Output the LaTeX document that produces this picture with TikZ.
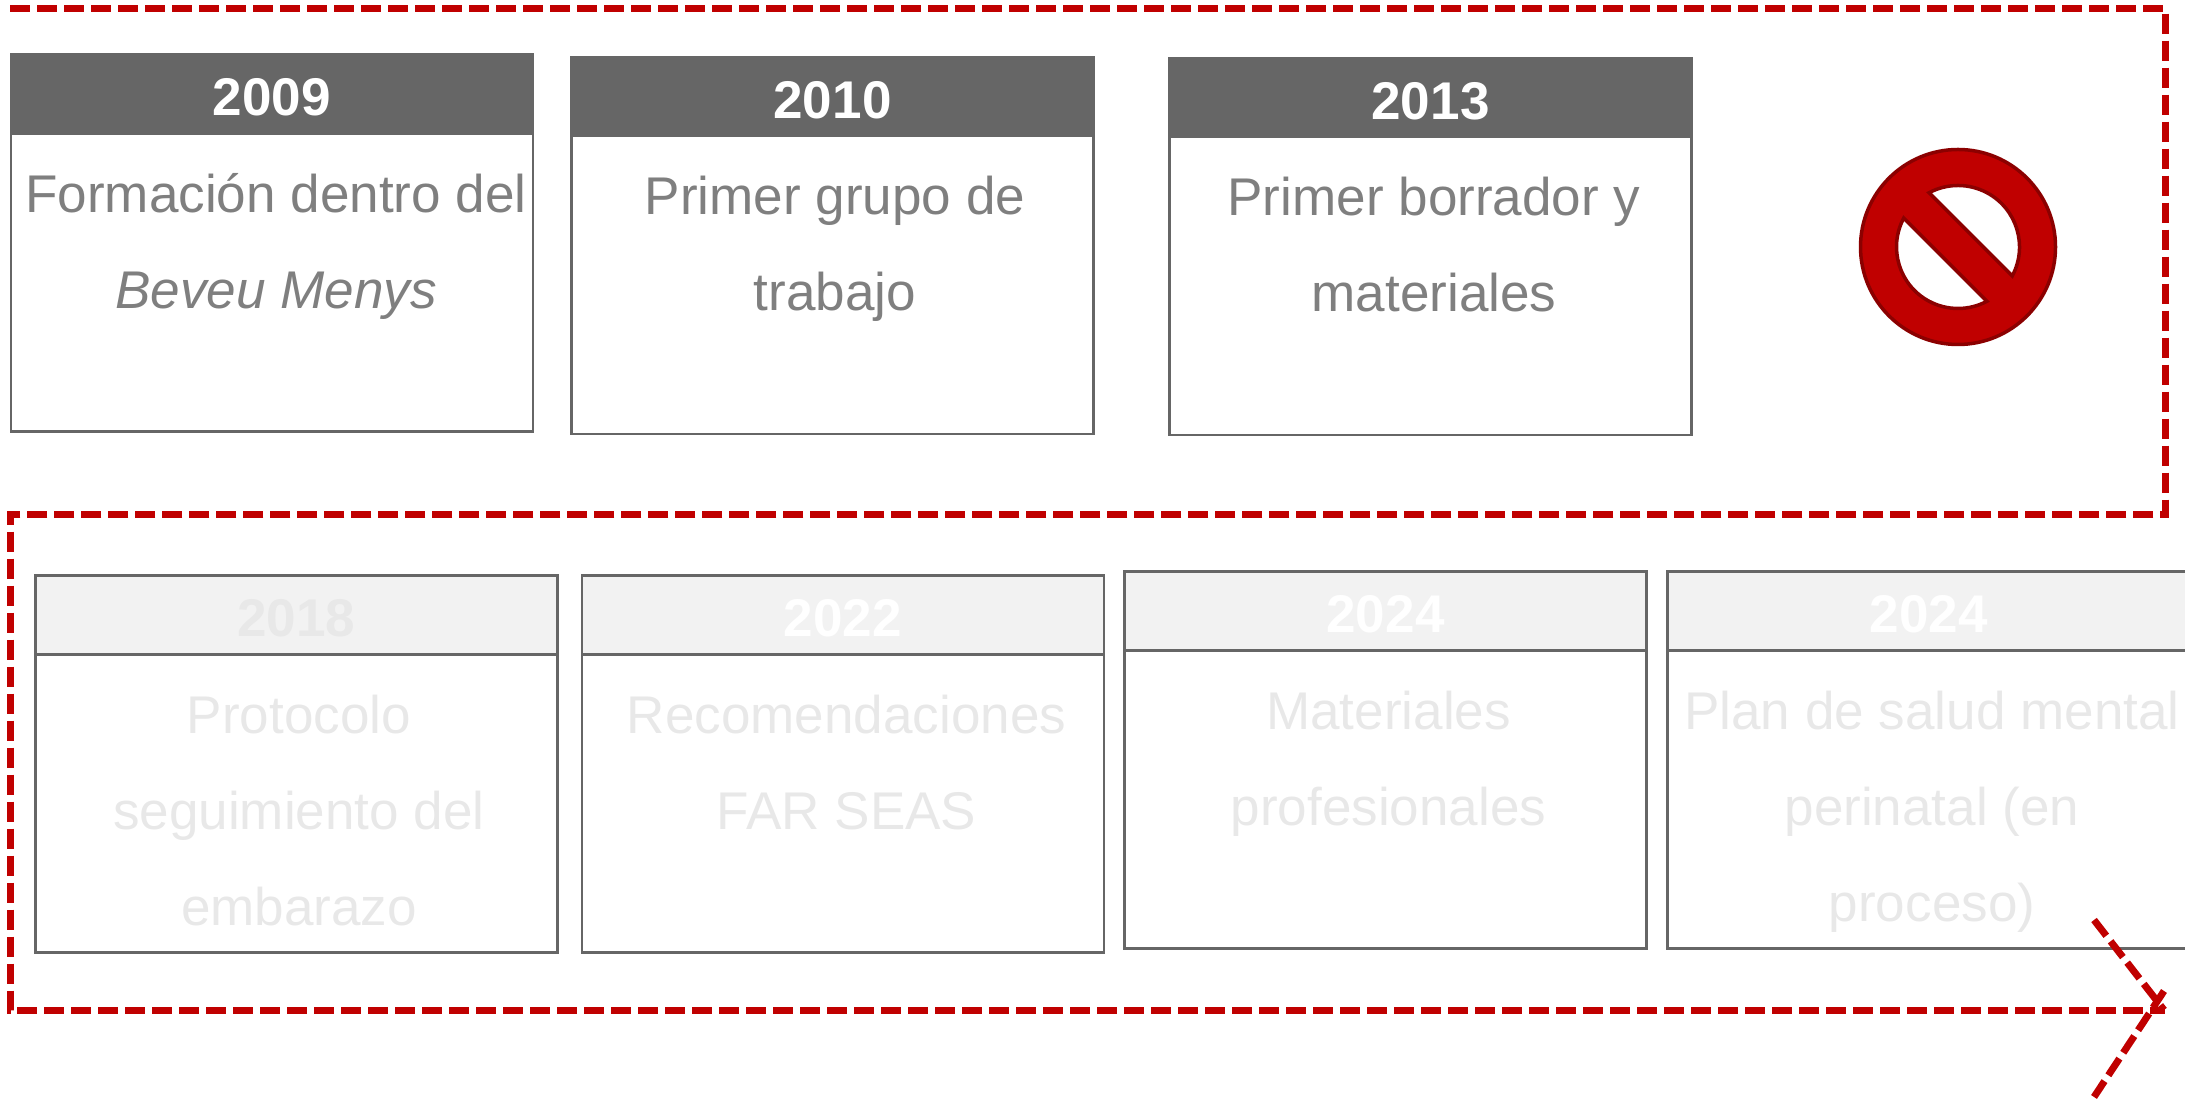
\documentclass[tikz,border=0pt]{standalone}
\usepackage{fontspec}
\setmainfont{Liberation Sans}
\usetikzlibrary{calc,positioning}
\definecolor{routered}{HTML}{C00000}
\definecolor{bandark}{HTML}{8B0000}
\definecolor{boxgray}{HTML}{666666}
\definecolor{textgray}{HTML}{7F7F7F}
\definecolor{fadefill}{HTML}{F2F2F2}
\definecolor{fadetext}{HTML}{E8E8E8}
\def\bansegment(#1)(#2:#3:#4){\draw[line width=0.035cm, draw=bandark, fill=white] ($(#1)+({#4*cos(#2)},{#4*sin(#2)})$) arc (#2:#3:#4) -- cycle;}
\tikzset{
	yearhead/.style={rectangle, draw=boxgray, line width=0.025cm, inner sep=0pt, outer sep=0pt, minimum width=5.22cm, minimum height=0.79cm, text height=0.44cm, font=\fontsize{15.1}{18}\selectfont\bfseries},
	headdark/.style={yearhead, fill=boxgray, text=white},
	headfade/.style={yearhead, fill=fadefill, text=white},
	bodybox/.style={rectangle, draw=boxgray, line width=0.025cm, inner sep=0pt, outer sep=0pt, minimum width=5.22cm, minimum height=2.98cm},
	bodytext/.style={inner sep=0pt, align=center, font=\fontsize{15.1}{27.3}\selectfont, execute at begin node={\strut}},
	route/.style={line width=0.07cm, color=routered, dash pattern=on 0.2cm off 0.07cm}
}
\begin{document}
\begin{tikzpicture}
	%%%%% START %%%%%
	\useasboundingbox (0, 0) rectangle (21.85, 11);
	
	% first row
	\node[headdark] (head2009) at (2.72, 10.06) {2009};
	\node[bodybox, below=0pt of head2009] (body2009) {};
	\node[bodytext, text=textgray, below=0.395cm of head2009, xshift=0.04cm] (text2009) {Formación dentro del\\\textit{Beveu Menys}};
	
	\node[headdark] (head2010) at (8.325, 10.035) {2010};
	\node[bodybox, below=0pt of head2010] (body2010) {};
	\node[bodytext, text=textgray, below=0.395cm of head2010, xshift=0.025cm] (text2010) {Primer grupo de\\trabajo};
	
	\node[headdark] (head2013) at (14.305, 10.025) {2013};
	\node[bodybox, below=0pt of head2013] (body2013) {};
	\node[bodytext, text=textgray, below=0.395cm of head2013, xshift=0.035cm] (text2013) {Primer borrador y\\materiales};
	
	% second row
	\node[headfade, text=fadetext] (head2018) at (2.965, 4.85) {2018};
	\node[bodybox, below=0pt of head2018] (body2018) {};
	\node[bodytext, text=fadetext, below=0.395cm of head2018, xshift=0.025cm] (text2018) {Protocolo\\seguimiento del\\embarazo};
	
	\node[headfade] (head2022) at (8.43, 4.85) {2022};
	\node[bodybox, below=0pt of head2022] (body2022) {};
	\node[bodytext, text=fadetext, below=0.395cm of head2022, xshift=0.035cm] (text2022) {Recomendaciones\\FAR SEAS};
	
	\node[headfade] (head2024a) at (13.855, 4.89) {2024};
	\node[bodybox, below=0pt of head2024a] (body2024a) {};
	\node[bodytext, text=fadetext, below=0.395cm of head2024a, xshift=0.03cm] (text2024a) {Materiales\\profesionales};
	
	\node[headfade] (head2024b) at (19.285, 4.89) {2024};
	\node[bodybox, below=0pt of head2024b] (body2024b) {};
	\node[bodytext, text=fadetext, below=0.395cm of head2024b, xshift=0.035cm] (text2024b) {Plan de salud mental\\perinatal (en\\proceso)};
	
	% prohibition sign
	\node[circle, draw=bandark, fill=routered, line width=0.035cm, inner sep=0pt, outer sep=0pt, minimum size=1.95cm] (ban) at (19.58, 8.53) {};
	\bansegment(ban)(-28:118:0.615);
	\bansegment(ban)(152:298:0.615);
	
	% dashed route
	\coordinate (start) at (0.1, 10.915);
	\coordinate (topright) at (21.65, 10.915);
	\coordinate (midright) at (21.65, 5.85);
	\coordinate (midleft) at (0.1, 5.85);
	\coordinate (lowleft) at (0.1, 0.895);
	\coordinate (tip) at (21.65, 0.895);
	\coordinate (chevtop) at (20.94, 1.8);
	\coordinate (chevtopend) at (21.64, 0.9);
	\coordinate (chevlow) at (21.64, 1.09);
	\coordinate (chevlowend) at (20.94, 0.03);
	\draw[route] (start) -- (topright) -- (midright) -- (midleft) -- (lowleft) -- (tip);
	\draw[route] (chevtop) -- (chevtopend);
	\draw[route] (chevlow) -- (chevlowend);
	
	%%%%% END %%%%%
\end{tikzpicture}
\end{document}
